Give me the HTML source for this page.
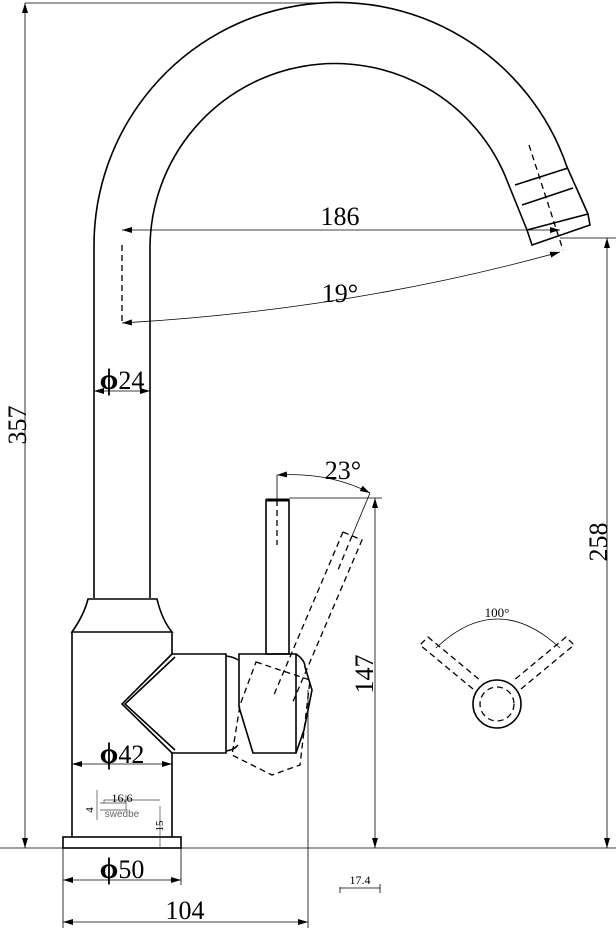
<!DOCTYPE html>
<html><head><meta charset="utf-8"><style>
html,body{margin:0;padding:0;background:#fff;}
svg{display:block;}
text{font-family:"Liberation Serif",serif;fill:#000;}
</style></head><body>
<svg width="616" height="928" viewBox="0 0 616 928" xmlns="http://www.w3.org/2000/svg">
<defs>
<marker id="a" viewBox="0 0 10 6" refX="10" refY="3" markerWidth="10" markerHeight="6" orient="auto-start-reverse" markerUnits="userSpaceOnUse"><path d="M0,0 L10,3 L0,6 z" fill="#000"/></marker>
</defs>
<g fill="none" stroke="#000" stroke-width="1.6">
<path d="M94,598 L94,245 A243,243 0 0 1 567,167 L588,214"/>
<path d="M150,598 L150,247 A185,185 0 0 1 508,183 L527,230"/>
<path d="M515,185 L568,168 M522,205 L573,188"/>
<path d="M527,230 L588,214 L590,225 L532,245 Z"/>
<path d="M88,599 L157,599 Q162,620 172,632 L72,632 Q84,615 88,599 Z"/>
<path d="M72,632 L72,837 M172,632 L172,654 M172,753 L172,837"/>
<rect x="63" y="837" width="118" height="11"/>
<path d="M172,654 L122,704 L172,753 M175,657 L125,704 L175,750"/>
<path d="M172,654 L226,654 L226,753 L172,753"/>
<path d="M226,656 Q234,657 238,660 M226,751 Q234,750 238,745"/>
<path d="M239,654 L296,654 L296,753 L253,753 L239,707 Z"/>
<path d="M296,654 Q305,660 305,667 L312,690 L304,730 L296,753"/>
<rect x="266" y="500" width="23" height="154"/>
<path d="M266,500 L289,500" stroke-width="3"/>
</g>
<g fill="none" stroke="#000" stroke-width="1.3" stroke-dasharray="6,4">
<path d="M277,500 L277,545"/>
<path d="M343,532 L362,540 L292,704 M343,532 L273,697"/>
<path d="M352,536 L338,570"/>
<path d="M256,662 L310,680 L300,765 L272,775 L232,755 L240,705 Z"/>
<path d="M122,245 L122,325"/>
<path d="M529,145 L563,250"/>
<circle cx="497" cy="704" r="17"/>
<path d="M473,689 L420,645 L428,637 L481,681 M521,689 L574,645 L566,637 L513,681"/>
</g>
<circle cx="497" cy="704" r="24" fill="none" stroke="#000" stroke-width="1.6"/>
<g fill="none" stroke="#000" stroke-width="0.8">
<path d="M25,3 L330,3 M0,848 L616,848 M560,238 L616,238 M289,498 L382,498 M308,690 L308,928 M63,848 L63,928 M181,848 L181,885"/>
<path d="M25,3 L25,848" marker-start="url(#a)" marker-end="url(#a)"/>
<path d="M607,238 L607,848" marker-start="url(#a)" marker-end="url(#a)"/>
<path d="M375,498 L375,848" marker-start="url(#a)" marker-end="url(#a)"/>
<path d="M63,922 L308,922" marker-start="url(#a)" marker-end="url(#a)"/>
<path d="M63,880 L181,880" marker-start="url(#a)" marker-end="url(#a)"/>
<path d="M72,764 L172,764" marker-start="url(#a)" marker-end="url(#a)"/>
<path d="M94,391 L150,391" marker-start="url(#a)" marker-end="url(#a)"/>
<path d="M122,230 L560,230" marker-start="url(#a)" marker-end="url(#a)"/>
<path d="M122,323 Q350,310 560,252" marker-start="url(#a)" marker-end="url(#a)"/>
<path d="M277,475 L277,500 M352,536 L370,493"/>
<path d="M277,475 Q330,472 370,493" marker-start="url(#a)" marker-end="url(#a)"/>
<path d="M436,648 Q497,590 560,648"/>
<path d="M340,887 L340,893 M340,888 L380,888 M380,884 L380,893"/>
<path d="M97,790 L97,820 M100,803 L126,803 M126,795 L126,810 L100,810 M104,803 L104,800 L160,800 M160,806 L160,848" stroke="#444" stroke-width="0.7"/>
</g>
<text x="340" y="225" font-size="26" text-anchor="middle">186</text>
<text x="340" y="302" font-size="26" text-anchor="middle">19°</text>
<text x="122" y="389" font-size="26" text-anchor="middle"><tspan font-size="30" font-weight="bold">ϕ</tspan>24</text>
<text x="343" y="479" font-size="26" text-anchor="middle">23°</text>
<text x="122" y="763" font-size="26" text-anchor="middle"><tspan font-size="30" font-weight="bold">ϕ</tspan>42</text>
<text x="122" y="878" font-size="26" text-anchor="middle"><tspan font-size="30" font-weight="bold">ϕ</tspan>50</text>
<text x="185" y="919" font-size="26" text-anchor="middle">104</text>
<text x="497" y="617" font-size="13" text-anchor="middle">100°</text>
<text x="360" y="884" font-size="12" text-anchor="middle">17.4</text>
<text x="122" y="802" font-size="12" text-anchor="middle">16.6</text>
<text x="122" y="817" font-size="10" text-anchor="middle" style="fill:#666;font-family:'Liberation Sans',sans-serif">swedbe</text>
<text transform="translate(93,810) rotate(-90)" font-size="11" text-anchor="middle">4</text>
<text transform="translate(163,826) rotate(-90)" font-size="11" text-anchor="middle">15</text>
<text transform="translate(26,425) rotate(-90)" font-size="26" text-anchor="middle">357</text>
<text transform="translate(607,542) rotate(-90)" font-size="26" text-anchor="middle">258</text>
<text transform="translate(373,674) rotate(-90)" font-size="26" text-anchor="middle">147</text>
</svg>
</body></html>
